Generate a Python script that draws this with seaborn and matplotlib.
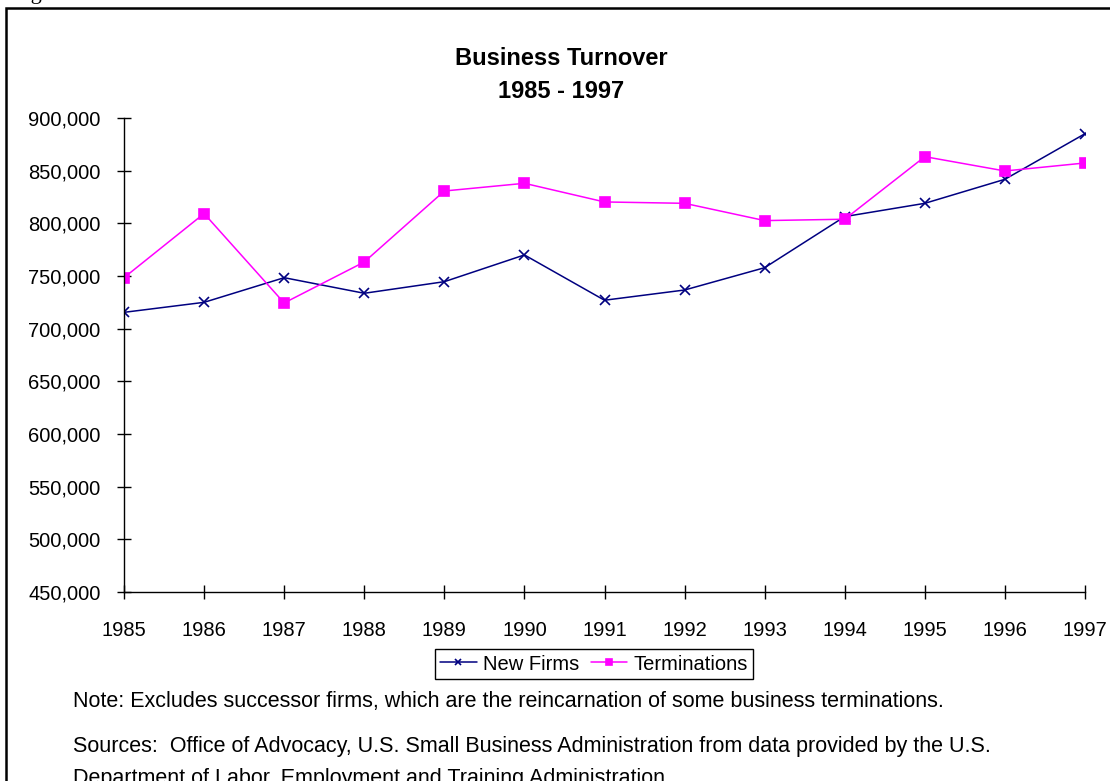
import numpy as np
import pandas as pd
import seaborn as sns
from matplotlib import pyplot as plt
from matplotlib.ticker import FuncFormatter
from matplotlib.patches import Rectangle

# values
years = list(range(1985, 1998))
new_firms = [715500, 725000, 748400, 733600, 744600, 770000, 727000,
             736700, 757900, 806400, 819000, 841800, 885100]
terminations = [748400, 809300, 724400, 763300, 830700, 838000, 820300,
                819000, 802600, 803900, 863300, 849700, 857300]
series_names = ['New Firms', 'Terminations']
colors = {'New Firms': '#000080', 'Terminations': '#ff00ff'}
markers = {'New Firms': 'x', 'Terminations': 's'}

df = pd.DataFrame({
    'year': years * 2,
    'count': new_firms + terminations,
    'series': [series_names[0]] * len(years) + [series_names[1]] * len(years),
})

sns.set_style('white')
plt.rcParams['font.family'] = ['Liberation Sans', 'DejaVu Sans']
plt.rcParams['text.color'] = 'black'
plt.rcParams['xtick.color'] = 'black'
plt.rcParams['ytick.color'] = 'black'

W, H = 1110, 781
fig = plt.figure(figsize=(W / 100, H / 100), dpi=100)
ax = fig.add_axes([124 / W, 1 - 592 / H, (1085 - 124) / W, (592 - 118) / H])

# x and square markers can't share one style mapping, so draw per series
for name in series_names:
    sns.lineplot(data=df[df['series'] == name], x='year', y='count',
                 color=colors[name], marker=markers[name],
                 markersize=7.5, linewidth=1.1, ax=ax)
for line in ax.get_lines():
    line.set_markeredgecolor(line.get_color())
    line.set_markerfacecolor(line.get_color())
    line.set_markeredgewidth(1.2)

ax.set_xlim(1985, 1997)
ax.set_ylim(450000, 900000)
ax.set_xticks(years)
ax.set_yticks(np.arange(450000, 900001, 50000))
ax.yaxis.set_major_formatter(FuncFormatter(lambda v, p: '{:,.0f}'.format(v)))
ax.set_xlabel('')
ax.set_ylabel('')
for s in ['top', 'right']:
    ax.spines[s].set_visible(False)
for s in ['left', 'bottom']:
    ax.spines[s].set_color('black')
    ax.spines[s].set_linewidth(1.0)
ax.tick_params(axis='both', bottom=True, left=True, direction='inout',
               length=10, width=1.0, color='black', labelsize=14.5,
               labelcolor='black')
ax.tick_params(axis='x', pad=16)
ax.tick_params(axis='y', pad=12)

handles = ax.get_lines()[:2]
leg = fig.legend(handles, series_names, loc='center',
                 bbox_to_anchor=(594 / W, 1 - 664 / H), ncol=2,
                 fontsize=14.5, frameon=True, fancybox=False, framealpha=1,
                 edgecolor='black', handlelength=1.8, handletextpad=0.3,
                 columnspacing=0.6, markerscale=0.6, borderpad=0.25,
                 borderaxespad=0)
leg.get_frame().set_linewidth(1.0)

# titles and notes
fig.text(561 / W, 1 - 65 / H, 'Business Turnover', ha='center',
         va='baseline', fontsize=17, fontweight='bold')
fig.text(561 / W, 1 - 98 / H, '1985 - 1997', ha='center',
         va='baseline', fontsize=17, fontweight='bold')
fig.text(73 / W, 1 - 707 / H,
         'Note: Excludes successor firms, which are the reincarnation of some business terminations.',
         ha='left', va='baseline', fontsize=15.5)
fig.text(73 / W, 1 - 752 / H,
         'Sources:  Office of Advocacy, U.S. Small Business Administration from data provided by the U.S.',
         ha='left', va='baseline', fontsize=15.5)
fig.text(73 / W, 1 - 784 / H,
         'Department of Labor, Employment and Training Administration.',
         ha='left', va='baseline', fontsize=15.5)

# page fragment above the chart frame
fig.text(12 / W, 1 + 1 / H, 'Figure', ha='left', va='baseline',
         fontsize=16, family=['Liberation Serif', 'DejaVu Serif'])

# chart border (runs off the right and bottom edges)
fig.patches.append(Rectangle((6 / W, -0.2), 1.0, 1.2 - 8 / H,
                             transform=fig.transFigure, fill=False,
                             edgecolor='black', linewidth=1.8, clip_on=False))

fig.savefig('out.png', dpi=100)
